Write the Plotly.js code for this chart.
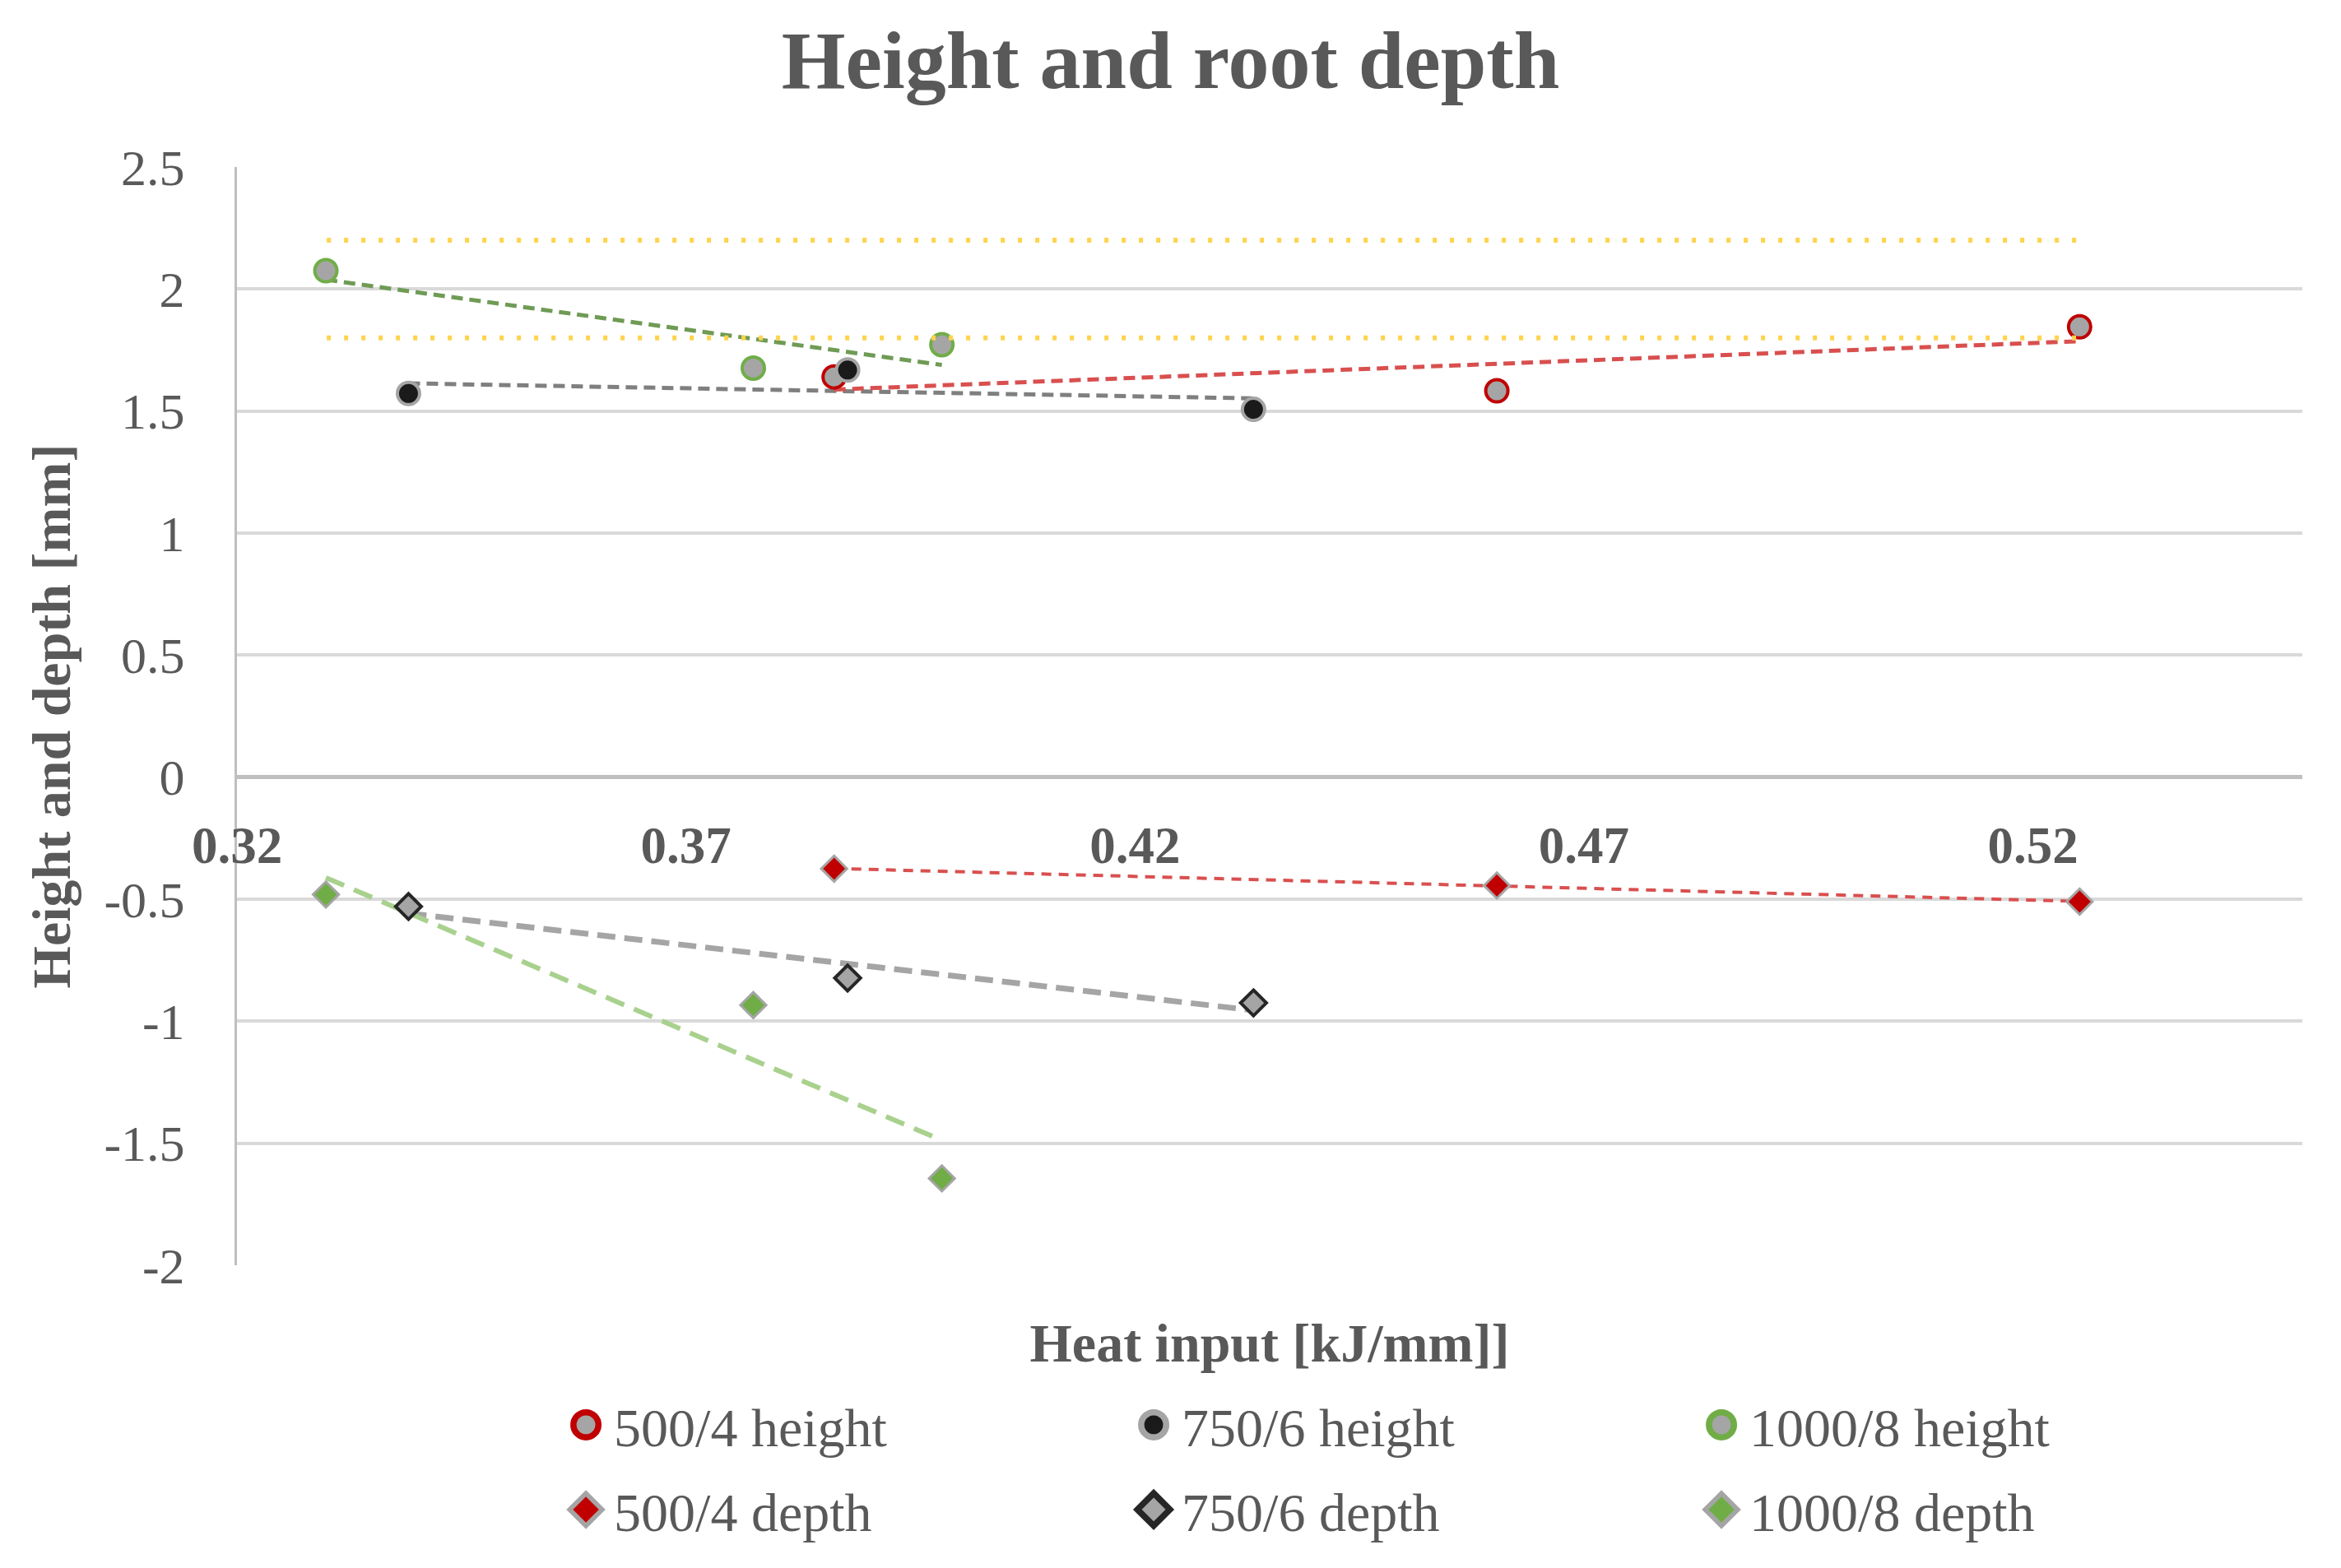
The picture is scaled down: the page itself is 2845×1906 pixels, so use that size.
<!DOCTYPE html>
<html>
<head>
<meta charset="utf-8">
<script src="https://cdn.plot.ly/plotly-3.0.1.min.js"></script>
<style>html,body{margin:0;padding:0;background:#fff;}#chart{width:2845px;height:1906px;}</style>
</head>
<body>
<div id="chart"></div>
<script>
// ---- data ----
var heat500 = [0.3865, 0.4603, 0.5252];
var height500 = [1.640, 1.583, 1.845];
var depth500 = [-0.375, -0.444, -0.510];

var heat750 = [0.3391, 0.3880, 0.4332];
var height750 = [1.572, 1.668, 1.507];
var depth750 = [-0.530, -0.823, -0.925];

var heat1000 = [0.3299, 0.3775, 0.3985];
var height1000 = [2.075, 1.676, 1.772];
var depth1000 = [-0.481, -0.934, -1.644];

var limitX = [0.33, 0.525];
var limitUpper = [2.2, 2.2];
var limitLower = [1.8, 1.8];

var seriesNames = ['500/4 height', '750/6 height', '1000/8 height', '500/4 depth', '750/6 depth', '1000/8 depth'];
var xTickVals = [0.32, 0.37, 0.42, 0.47, 0.52];
var xTickText = ['0.32', '0.37', '0.42', '0.47', '0.52'];
var yTickVals = [-2, -1.5, -1, -0.5, 0, 0.5, 1, 1.5, 2, 2.5];
var yTickText = ['-2', '-1.5', '-1', '-0.5', '0', '0.5', '1', '1.5', '2', '2.5'];

// linear least-squares trendline over the series' x extent
function trend(xs, ys) {
  var n = xs.length, mx = 0, my = 0;
  for (var i = 0; i < n; i++) { mx += xs[i]; my += ys[i]; }
  mx /= n; my /= n;
  var sxy = 0, sxx = 0;
  for (var j = 0; j < n; j++) { sxy += (xs[j] - mx) * (ys[j] - my); sxx += (xs[j] - mx) * (xs[j] - mx); }
  var b = sxy / sxx, a = my - b * mx;
  var x0 = Math.min.apply(null, xs), x1 = Math.max.apply(null, xs);
  return { x: [x0, x1], y: [a + b * x0, a + b * x1] };
}

var FONT = 'Liberation Serif';
var TXT = '#595959';

function lineTrace(t, color, width, dash) {
  return { x: t.x, y: t.y, type: 'scatter', mode: 'lines', showlegend: false, hoverinfo: 'skip',
    line: { color: color, width: width, dash: dash } };
}

var t500h = trend(heat500, height500), t750h = trend(heat750, height750), t1000h = trend(heat1000, height1000);
var t500d = trend(heat500, depth500), t750d = trend(heat750, depth750), t1000d = trend(heat1000, depth1000);

var traces = [
  { x: limitX, y: limitUpper, xaxis: 'x2', type: 'scatter', mode: 'lines', showlegend: false, hoverinfo: 'skip',
    line: { color: '#ffd34e', width: 6, dash: '5px,16px' } },
  { x: limitX, y: limitLower, xaxis: 'x2', type: 'scatter', mode: 'lines', showlegend: false, hoverinfo: 'skip',
    line: { color: '#ffd34e', width: 6, dash: '5px,16px' } },
  lineTrace(t1000h, '#6f9b55', 5, '14px,8px'),
  lineTrace(t750h, '#7f7f7f', 5, '14px,8px'),
  lineTrace(t500h, '#d94f4f', 5, '14px,8px'),
  lineTrace(t500d, '#d94f4f', 4, '12px,9px'),
  lineTrace(t750d, '#a5a5a5', 7, '22px,11px'),
  lineTrace(t1000d, '#a9d18e', 6, '24px,13px'),
  { x: heat500, y: height500, name: seriesNames[0], type: 'scatter', mode: 'markers', legend: 'legend',
    marker: { symbol: 'circle', size: 27, color: '#a5a5a5', line: { color: '#c00000', width: 4 } } },
  { x: heat750, y: height750, name: seriesNames[1], type: 'scatter', mode: 'markers', legend: 'legend',
    marker: { symbol: 'circle', size: 27, color: '#1a1a1a', line: { color: '#a5a5a5', width: 4 } } },
  { x: heat1000, y: height1000, name: seriesNames[2], type: 'scatter', mode: 'markers', legend: 'legend',
    marker: { symbol: 'circle', size: 27, color: '#a5a5a5', line: { color: '#70ad47', width: 4 } } },
  { x: heat500, y: depth500, name: seriesNames[3], type: 'scatter', mode: 'markers', legend: 'legend2',
    marker: { symbol: 'diamond', size: 24, color: '#c00000', line: { color: '#a5a5a5', width: 3 } } },
  { x: heat750, y: depth750, name: seriesNames[4], type: 'scatter', mode: 'markers', legend: 'legend2',
    marker: { symbol: 'diamond', size: 24, color: '#a5a5a5', line: { color: '#262626', width: 4 } } },
  { x: heat1000, y: depth1000, name: seriesNames[5], type: 'scatter', mode: 'markers', legend: 'legend2',
    marker: { symbol: 'diamond', size: 24, color: '#70ad47', line: { color: '#a5a5a5', width: 3 } } }
];

var legendCommon = {
  orientation: 'h', xref: 'paper', yref: 'paper', xanchor: 'left', yanchor: 'middle',
  x: 0.157, entrywidth: 621, entrywidthmode: 'pixels', itemwidth: 54, bgcolor: 'rgba(0,0,0,0)',
  font: { family: FONT, size: 66, color: TXT }, itemsizing: 'trace', traceorder: 'normal'
};
var legend1 = Object.assign({}, legendCommon, { y: -0.1453 });
var legend2 = Object.assign({}, legendCommon, { y: -0.2225 });

var layout = {
  width: 2845, height: 1906,
  margin: { l: 288, r: 47, t: 203, b: 368, pad: 0 },
  paper_bgcolor: '#ffffff', plot_bgcolor: '#ffffff',
  font: { family: FONT, color: TXT },
  title: { text: 'Height and root depth', xref: 'container', x: 0.5, xanchor: 'center',
    yref: 'container', y: 0.962, yanchor: 'middle',
    font: { family: FONT, size: 100, color: TXT, weight: 'bold' } },
  xaxis: {
    range: [0.32, 0.55], tickvals: xTickVals, ticktext: xTickText, showticklabels: false,
    showgrid: false, zeroline: false, showline: false, ticks: '',
    title: { text: 'Heat input [kJ/mm]]', standoff: 70, font: { family: FONT, size: 66, color: TXT, weight: 'bold' } }
  },
  xaxis2: {
    overlaying: 'x', matches: 'x', anchor: 'free', position: 0.4444, side: 'bottom',
    range: [0.32, 0.55], tickvals: xTickVals, ticktext: xTickText, showticklabels: true,
    showgrid: false, zeroline: false, showline: false, ticks: '', ticklabelstandoff: 40,
    tickfont: { family: FONT, size: 63, color: TXT, weight: 'bold' }
  },
  yaxis: {
    range: [-2, 2.5], tickvals: yTickVals, ticktext: yTickText,
    showgrid: true, gridcolor: '#d9d9d9', gridwidth: 4,
    zeroline: true, zerolinecolor: '#bfbfbf', zerolinewidth: 5,
    showline: true, linecolor: '#bfbfbf', linewidth: 3, mirror: false,
    ticks: '', ticklabelstandoff: 48,
    tickfont: { family: FONT, size: 62, color: TXT },
    title: { text: 'Height and depth [mm]', standoff: 20, font: { family: FONT, size: 66, color: TXT, weight: 'bold' } }
  },
  legend: legend1,
  legend2: legend2,
  showlegend: true
};

Plotly.newPlot('chart', traces, layout, { displayModeBar: false, staticPlot: true }).then(function () {
  // enlarge legend symbols to match the reference marker size
  var pts = document.querySelectorAll('.legendpoints path.scatterpts');
  for (var i = 0; i < pts.length; i++) {
    pts[i].setAttribute('transform', 'translate(30,0) scale(1.9)');
  }
});
</script>
</body>
</html>
